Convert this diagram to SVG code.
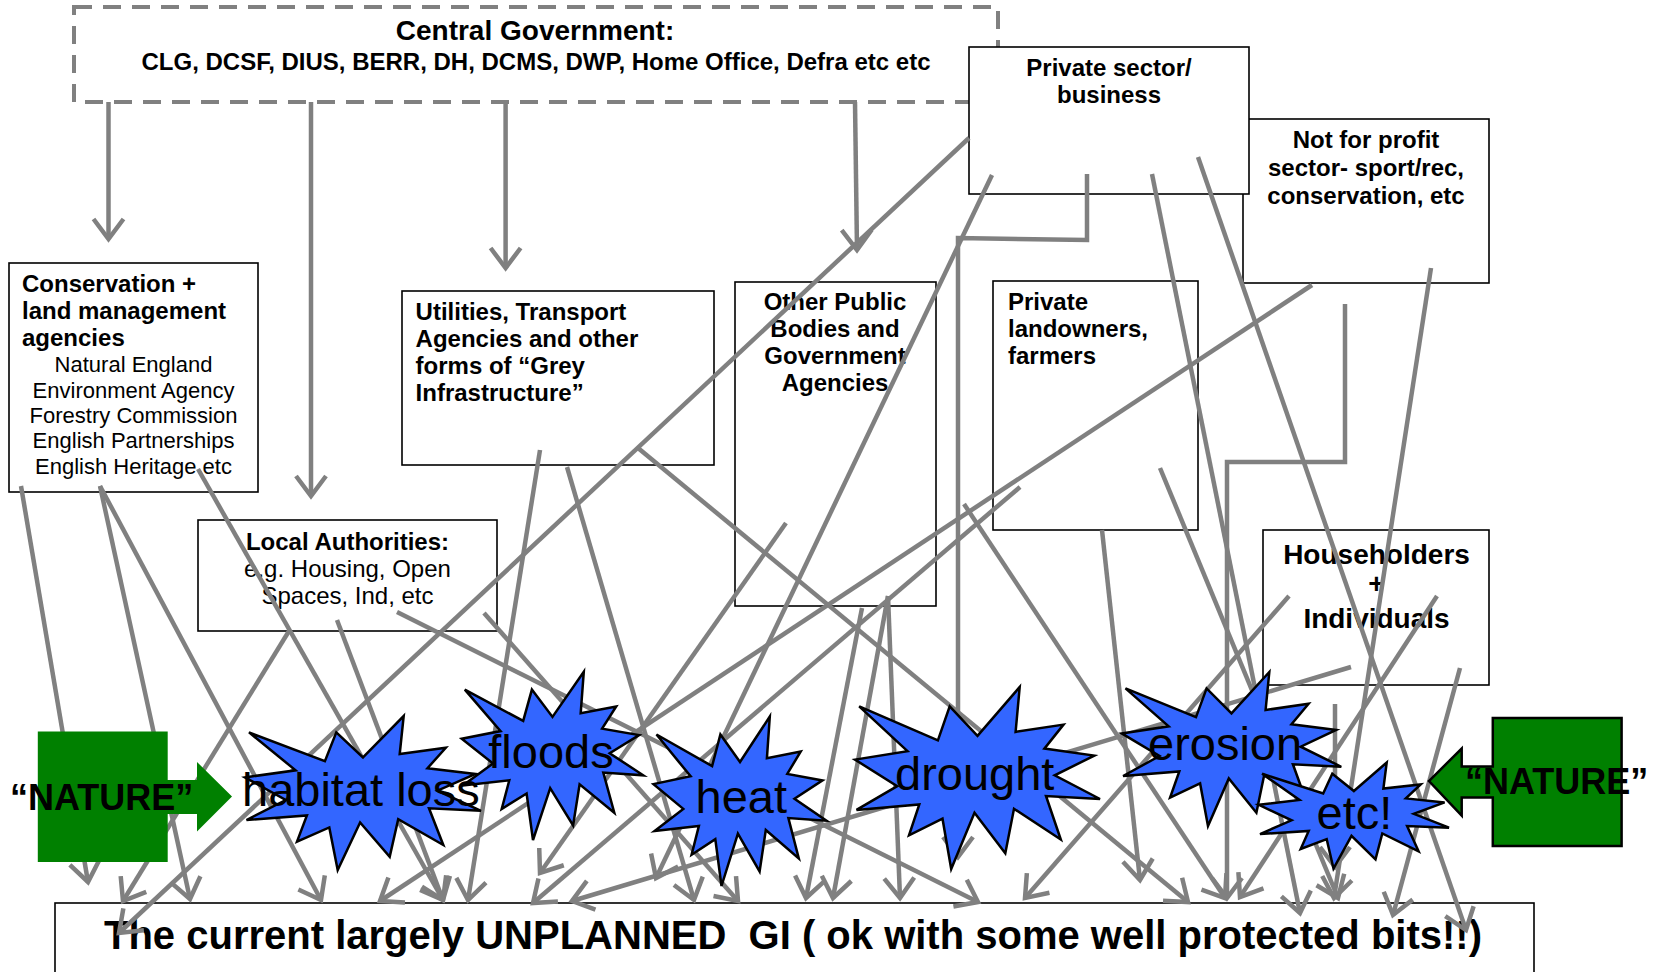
<svg xmlns="http://www.w3.org/2000/svg" width="1661" height="972" viewBox="0 0 1661 972">
<style>
text{font-family:"Liberation Sans",Arial,sans-serif;fill:#000}
.b{font-weight:bold}
.box{fill:#fff;stroke:#000;stroke-width:1.6}
.c{fill:none;stroke:#808080;stroke-width:4.5;marker-end:url(#ah)}
.star{fill:#3366ff;stroke:#000;stroke-width:2.5;stroke-linejoin:miter}
.st{font-size:47px}
.nat{font-size:36px;font-weight:bold}
</style>
<defs>
<marker id="ah" viewBox="-24 -18 30 36" refX="0" refY="0" markerWidth="30" markerHeight="36" markerUnits="userSpaceOnUse" orient="auto" overflow="visible">
<path d="M-20,-15 L0,0 L-20,15" fill="none" stroke="#808080" stroke-width="4.5"/>
</marker>
</defs>
<rect width="1661" height="972" fill="#fff"/>

<g id="central-government">
<rect x="74" y="7" width="924" height="95" fill="#fff" stroke="#808080" stroke-width="4" stroke-dasharray="18 11"/>
<text x="535" y="40" class="b" font-size="28" text-anchor="middle">Central Government:</text>
<text x="536" y="70" class="b" font-size="24" text-anchor="middle">CLG, DCSF, DIUS, BERR, DH, DCMS, DWP, Home Office, Defra etc etc</text>
</g>
<g id="not-for-profit">
<rect class="box" x="1243" y="119" width="246" height="164"/>
<text class="b" font-size="24" text-anchor="middle"><tspan x="1366" y="148">Not for profit</tspan><tspan x="1366" y="176">sector- sport/rec,</tspan><tspan x="1366" y="204">conservation, etc</tspan></text>
</g>
<g id="private-sector">
<rect class="box" x="969" y="47" width="280" height="147"/>
<text class="b" font-size="24" text-anchor="middle"><tspan x="1109" y="76">Private sector/</tspan><tspan x="1109" y="103">business</tspan></text>
</g>
<g id="conservation-agencies">
<rect class="box" x="9" y="263" width="249" height="229"/>
<text class="b" font-size="24"><tspan x="22" y="292">Conservation +</tspan><tspan x="22" y="319">land management</tspan><tspan x="22" y="346">agencies</tspan></text>
<text font-size="22" text-anchor="middle"><tspan x="133.5" y="372">Natural England</tspan><tspan x="133.5" y="398">Environment Agency</tspan><tspan x="133.5" y="423">Forestry Commission</tspan><tspan x="133.5" y="448">English Partnerships</tspan><tspan x="133.5" y="474">English Heritage etc</tspan></text>
</g>
<g id="utilities">
<rect class="box" x="402" y="291" width="312" height="174"/>
<text class="b" font-size="24"><tspan x="415.6" y="320">Utilities, Transport</tspan><tspan x="415.6" y="347">Agencies and other</tspan><tspan x="415.6" y="374">forms of “Grey</tspan><tspan x="415.6" y="401">Infrastructure”</tspan></text>
</g>
<g id="other-public-bodies">
<rect class="box" x="735" y="282" width="201" height="324"/>
<text class="b" font-size="24" text-anchor="middle"><tspan x="835" y="310">Other Public</tspan><tspan x="835" y="337">Bodies and</tspan><tspan x="835" y="364">Government</tspan><tspan x="835" y="391">Agencies</tspan></text>
</g>
<g id="private-landowners">
<rect class="box" x="993" y="281" width="205" height="249"/>
<text class="b" font-size="24"><tspan x="1008" y="310">Private</tspan><tspan x="1008" y="337">landowners,</tspan><tspan x="1008" y="364">farmers</tspan></text>
</g>
<g id="local-authorities">
<rect class="box" x="198" y="520" width="299" height="111"/>
<text x="347.5" y="550" class="b" font-size="24" text-anchor="middle">Local Authorities:</text>
<text font-size="24" text-anchor="middle"><tspan x="347.5" y="577">e.g. Housing, Open</tspan><tspan x="347.5" y="604">Spaces, Ind, etc</tspan></text>
</g>
<g id="householders">
<rect class="box" x="1263" y="530" width="226" height="155"/>
<text class="b" font-size="28" text-anchor="middle"><tspan x="1376.5" y="563.5">Householders</tspan><tspan x="1376.5" y="593">+</tspan><tspan x="1376.5" y="628">Individuals</tspan></text>
</g>
<g id="unplanned-gi">
<rect class="box" x="55" y="903" width="1479" height="80"/>
<text x="104" y="949" class="b" font-size="40" style="white-space:pre">The current largely UNPLANNED  GI ( ok with some well protected bits!!)</text>
</g>

<g id="connectors">
<path class="c" d="M108.5,102 V239"/>
<path class="c" d="M311,102 V496"/>
<path class="c" d="M505.6,102 V268"/>
<path class="c" d="M855,102 L857,250"/>
<path class="c" d="M969,138 L119,933"/>
<path class="c" d="M992,175 L656,878"/>
<path class="c" d="M1087,174 V240 L958,238 V857"/>
<path class="c" d="M1152,174 L1300,913"/>
<path class="c" d="M1198,157 L1466,930"/>
<path class="c" d="M1312,285 L380,901"/>
<path class="c" d="M1345,304 V462 H1227 V898"/>
<path class="c" d="M1431,268 L1334,898"/>
<path class="c" d="M21,486 L88,882"/>
<path class="c" d="M100,486 L190,899"/>
<path class="c" d="M100,486 L321,900"/>
<path class="c" d="M198,469 L443,900"/>
<path class="c" d="M289,631 L123,901"/>
<path class="c" d="M337,620 L443,900"/>
<path class="c" d="M397,612 L978,902"/>
<path class="c" d="M484,613 L738,901"/>
<path class="c" d="M540,450 L468,900"/>
<path class="c" d="M567,467 L694,900"/>
<path class="c" d="M638,448 L1188,902"/>
<path class="c" d="M786,523 L540,873"/>
<path class="c" d="M862,608 L806,898"/>
<path class="c" d="M888,596 L833,898"/>
<path class="c" d="M888,596 L900,898"/>
<path class="c" d="M1020,487 L533,903"/>
<path class="c" d="M1160,468 L1338,898"/>
<path class="c" d="M1102,530 L1140,880"/>
<path class="c" d="M964,504 L1225,898"/>
<path class="c" d="M1351,667 L572,901"/>
<path class="c" d="M1289,596 L1025,898"/>
<path class="c" d="M1437,596 L1240,897"/>
<path class="c" d="M1460,668 L1393,915"/>
<path class="c" d="M1335,704 L1335,867"/>
</g>

<g id="floods">
<path class="star" d="M552.5,716.9 L583.8,671.7 L580.7,713.2 L616.2,706.4 L602.1,728.7 L639.1,735.1 L609.7,753.3 L643.3,775.3 L603.3,772.5 L614.3,812.7 L579.6,784.3 L573.1,825.5 L550.2,788.1 L533,840 L526.6,793.5 L501.7,809 L509.3,780.3 L462.8,785.4 L493,763.5 L461.7,738.8 L500.6,731.1 L464.8,689.6 L523.2,720.9 L531.9,689.6 Z"/>
<text x="488.3" y="768.3" class="st">floods</text>
</g>
<g id="habitat-loss">
<path class="star" d="M363,757.4 L403.7,716 L399.7,754 L445.8,747.8 L427.5,768.2 L475.5,774 L437.4,790.7 L481,810.8 L429,808.3 L443.3,845 L398.2,819.1 L389.7,856.7 L360.1,822.5 L337.7,870 L329.3,827.4 L297,841.6 L306.9,815.4 L246.5,820 L285.7,800 L245,777.4 L295.6,770.3 L249,732.4 L324.9,761.1 L336.3,732.4 Z"/>
<text x="242" y="806" class="st">habitat loss</text>
</g>
<g id="heat">
<path class="star" d="M740,762 L769.8,716.5 L766.9,758.3 L800.7,751.5 L787.3,773.9 L822.5,780.4 L794.5,798.7 L826.5,820.8 L788.4,818.1 L798.8,858.5 L765.8,830 L759.6,871.4 L737.9,833.7 L721.5,886 L715.3,839.1 L691.6,854.7 L698.9,825.9 L654.6,831 L683.3,808.9 L653.5,784.1 L690.6,776.3 L656.5,734.5 L712.1,766.1 L720.4,734.5 Z"/>
<text x="695.5" y="813" class="st">heat</text>
</g>
<g id="drought">
<path class="star" d="M977.5,735.9 L1019.7,687 L1015.6,731.9 L1063.5,724.6 L1044.4,748.6 L1094.3,755.6 L1054.7,775.3 L1100,799 L1046,796 L1060.8,839.5 L1014,808.8 L1005.3,853.3 L974.5,812.8 L951.2,869 L942.5,818.7 L909,835.4 L919.3,804.4 L856.5,809.9 L897.2,786.2 L855,759.6 L907.5,751.2 L859.2,706.3 L937.9,740.3 L949.7,706.3 Z"/>
<text x="895" y="790" class="st">drought</text>
</g>
<g id="erosion">
<path class="star" d="M1231.5,713.4 L1269.3,672 L1265.6,710 L1308.6,703.8 L1291.5,724.2 L1336.2,730 L1300.7,746.7 L1341.3,766.8 L1292.9,764.3 L1306.2,801 L1264.2,775.1 L1256.4,812.7 L1228.8,778.5 L1208,826 L1200.1,783.4 L1170.1,797.6 L1179.3,771.4 L1123.1,776 L1159.5,756 L1121.7,733.4 L1168.7,726.3 L1125.5,688.4 L1196,717.1 L1206.6,688.4 Z"/>
<text x="1148" y="760" class="st">erosion</text>
</g>
<g id="etc">
<path class="star" d="M1353.9,791 L1386.7,762.5 L1383.4,788.6 L1420.7,784.4 L1405.9,798.4 L1444.6,802.4 L1413.8,813.9 L1449,827.7 L1407.1,826 L1418.6,851.3 L1382.3,833.5 L1375.5,859.4 L1351.5,835.8 L1333.5,868.5 L1326.7,839.2 L1300.7,849 L1308.7,830.9 L1260,834.1 L1291.6,820.3 L1258.8,804.8 L1299.5,799.9 L1262.1,773.8 L1323.2,793.5 L1332.3,773.8 Z"/>
<text x="1316.5" y="829" class="st">etc!</text>
</g>

<g id="nature-left">
<path d="M37.8,731.5 H167.7 V780 H197 V762 L232,796.5 L197,831.5 V814 H167.7 V862 H37.8 Z" fill="#008000"/>
<text x="10" y="809.5" class="nat">“NATURE”</text>
</g>
<g id="nature-right">
<path d="M1621.6,718 V846 H1492.8 V797.6 H1461.7 V815.6 L1429,781 L1461.7,748.5 V766.4 H1492.8 V718 Z" fill="#008000" stroke="#000" stroke-width="2.5"/>
<text x="1465" y="794" class="nat">“NATURE”</text>
</g>
</svg>
